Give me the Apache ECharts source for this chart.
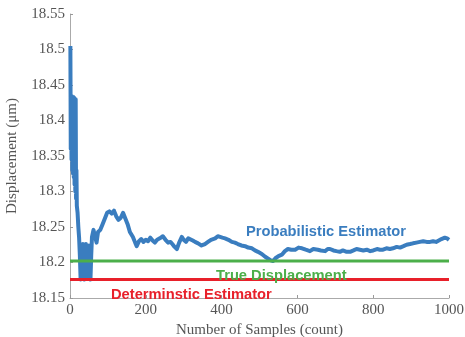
<!DOCTYPE html>
<html>
<head>
<meta charset="utf-8">
<script src="https://cdn.jsdelivr.net/npm/echarts@6/dist/echarts.min.js"></script>
<style>
  html, body { margin: 0; padding: 0; background: #fff; }
  #chart { width: 465px; height: 337px; }
</style>
</head>
<body>
<div id="chart"></div>
<script>
// Running estimate of displacement against number of samples
const sampleCount = [
  1, 2, 3, 4, 5, 6, 7, 8, 9, 10, 11, 12, 13, 14, 15, 16, 17, 18, 20, 22, 24, 26, 28, 30,
  32, 34, 36, 38, 40, 42, 44, 46, 48, 50, 52, 54, 56, 58, 62, 66, 70, 74, 80, 86, 92, 98,
  104, 110, 116, 122, 128, 134, 140, 146, 152, 158, 166, 172, 176, 182, 188, 194, 200,
  206, 212, 218, 224, 230, 237, 245, 252, 259, 265, 270, 276, 282, 288, 295, 300, 306,
  312, 317, 324, 330, 338, 347, 352, 356, 364, 372, 383, 390, 396, 402, 409, 418, 427,
  435, 443, 452, 462, 470, 480, 488, 496, 506, 515, 524, 530, 536, 542, 550, 559, 567,
  575, 584, 594, 603, 612, 622, 633, 642, 654, 662, 673, 680, 686, 695, 703, 712, 720,
  730, 739, 748, 756, 765, 774, 783, 792, 800, 810, 818, 826, 835, 844, 852, 862, 871,
  880, 888, 897, 905, 914, 923, 932, 941, 950, 958, 966, 971, 980, 989, 995, 1000
];
const probabilistic = [
  18.505, 18.36, 18.432, 18.345, 18.434, 18.33, 18.432, 18.325, 18.433, 18.32, 18.432, 18.31,
  18.43, 18.30, 18.43, 18.29, 18.33, 18.28, 18.27, 18.25, 18.235, 18.21, 18.176, 18.205,
  18.185, 18.226, 18.19, 18.176, 18.21, 18.226, 18.195, 18.205, 18.18, 18.224, 18.195,
  18.176, 18.21, 18.236, 18.246, 18.244, 18.228, 18.243, 18.246, 18.254, 18.262, 18.27,
  18.272, 18.269, 18.273, 18.265, 18.26, 18.263, 18.27, 18.262, 18.254, 18.243, 18.236,
  18.228, 18.223, 18.23, 18.233, 18.229, 18.232, 18.23, 18.235, 18.231, 18.228, 18.232,
  18.234, 18.237, 18.232, 18.228, 18.229, 18.226, 18.222, 18.219, 18.228, 18.236, 18.232,
  18.229, 18.234, 18.233, 18.231, 18.229, 18.227, 18.224, 18.226, 18.226, 18.229, 18.232,
  18.234, 18.237, 18.236, 18.235, 18.234, 18.232, 18.229, 18.228, 18.226, 18.224, 18.223,
  18.221, 18.22, 18.217, 18.215, 18.212, 18.208, 18.205, 18.203, 18.202, 18.206, 18.209,
  18.211, 18.216, 18.219, 18.218, 18.218, 18.221, 18.22, 18.218, 18.216, 18.219, 18.218,
  18.217, 18.216, 18.219, 18.219, 18.217, 18.216, 18.215, 18.217, 18.215, 18.215, 18.217,
  18.219, 18.218, 18.217, 18.218, 18.216, 18.217, 18.219, 18.218, 18.218, 18.22, 18.219,
  18.22, 18.222, 18.221, 18.223, 18.225, 18.226, 18.227, 18.228, 18.229, 18.23, 18.229,
  18.229, 18.23, 18.229, 18.231, 18.233, 18.235, 18.234, 18.232
];
const trueDisplacement = 18.202;
const deterministic = 18.176;
const xRange = [0, 1000];
const yRange = [18.15, 18.55];

const blue = '#3a7dbf';
const green = '#4caf4a';
const red = '#e8202a';
const serif = '"Liberation Serif", "DejaVu Serif", serif';
const sans = '"Liberation Sans", Arial, sans-serif';

const chart = echarts.init(document.getElementById('chart'), null, { renderer: 'canvas' });

chart.setOption({
  animation: false,
  backgroundColor: '#ffffff',
  grid: {
    left: 70, right: 16, top: 14, bottom: 39,
    containLabel: false, outerBoundsMode: 'none'
  },
  xAxis: {
    type: 'value',
    min: xRange[0], max: xRange[1], interval: 200,
    name: 'Number of Samples (count)',
    nameLocation: 'middle', nameGap: 22,
    nameTextStyle: { fontFamily: serif, fontSize: 15, color: '#555' },
    axisLine: { show: true, lineStyle: { color: '#aaa', width: 1 } },
    axisTick: { show: true, inside: true, length: 3, lineStyle: { color: '#999' } },
    axisLabel: {
      fontFamily: serif, fontSize: 15, color: '#555', margin: 5,
      formatter: v => String(v)
    },
    splitLine: { show: false }
  },
  yAxis: {
    type: 'value',
    min: yRange[0], max: yRange[1], interval: 0.05,
    name: 'Displacement (\u03bcm)',
    nameLocation: 'middle', nameGap: 50, nameRotate: 90,
    nameTextStyle: { fontFamily: serif, fontSize: 15, color: '#555' },
    axisLine: { show: true, lineStyle: { color: '#aaa', width: 1 } },
    axisTick: { show: true, inside: true, length: 3, lineStyle: { color: '#999' } },
    axisLabel: {
      fontFamily: serif, fontSize: 15, color: '#555', margin: 5,
      formatter: v => String(parseFloat(v.toFixed(2)))
    },
    splitLine: { show: false }
  },
  series: [
    {
      name: 'Probabilistic Estimator',
      type: 'line',
      data: sampleCount.map((s, i) => [s, probabilistic[i]]),
      showSymbol: false,
      lineStyle: { color: blue, width: 4, join: 'round' },
      z: 2
    },
    {
      name: 'True Displacement',
      type: 'line',
      data: xRange.map(x => [x, trueDisplacement]),
      showSymbol: false,
      lineStyle: { color: green, width: 3 },
      z: 3
    },
    {
      name: 'Determinstic Estimator',
      type: 'line',
      data: xRange.map(x => [x, deterministic]),
      showSymbol: false,
      lineStyle: { color: red, width: 3 },
      z: 3
    }
  ],
  graphic: [
    {
      type: 'text', left: 246, top: 224, z: 10,
      style: { text: 'Probabilistic Estimator', fill: blue, font: 'bold 14.7px ' + sans }
    },
    {
      type: 'text', left: 216, top: 268, z: 10,
      style: { text: 'True Displacement', fill: green, font: 'bold 14.7px ' + sans }
    },
    {
      type: 'text', left: 111, top: 287, z: 10,
      style: { text: 'Determinstic Estimator', fill: red, font: 'bold 14.7px ' + sans }
    }
  ]
});
</script>
</body>
</html>
